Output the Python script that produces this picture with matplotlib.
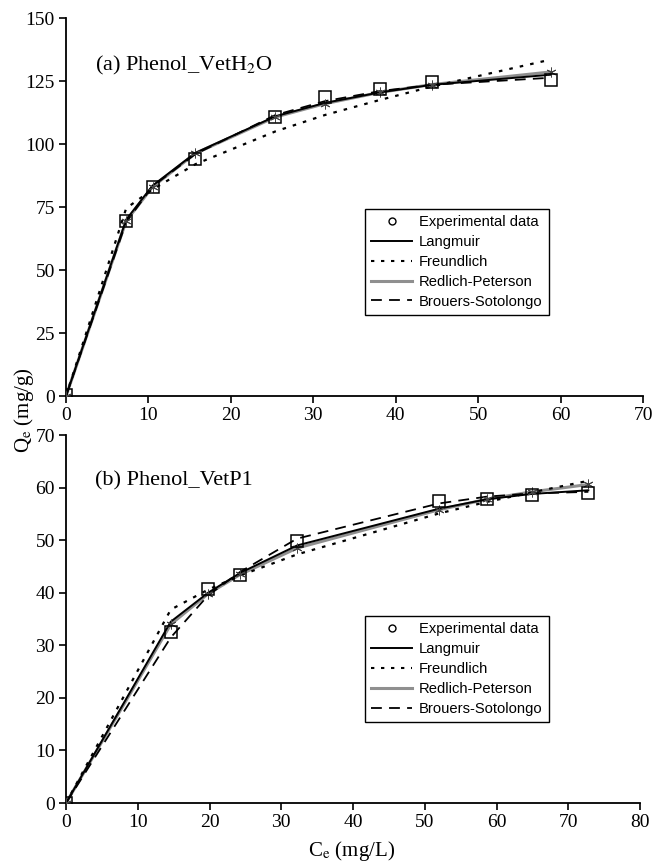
import matplotlib
matplotlib.use("Agg")
import matplotlib.pyplot as plt
from matplotlib.lines import Line2D

plt.rcParams['font.family'] = ['Liberation Serif', 'DejaVu Serif']
plt.rcParams['mathtext.fontset'] = 'stix'

# ---- Panel (a) Phenol_VetH2O ----
a_ce = [0, 7.3, 10.5, 15.7, 25.4, 31.4, 38.1, 44.4, 58.8]
a_exp = [0.5, 69.3, 83.0, 94.2, 110.7, 118.8, 122.0, 124.8, 125.4]
a_langmuir = [0, 70.0, 83.5, 96.5, 111.0, 116.3, 120.5, 123.5, 127.5]
a_freundlich = [0, 74.5, 82.0, 92.0, 105.0, 111.5, 117.5, 122.8, 133.5]
a_redlich = [0, 69.5, 83.0, 96.3, 110.7, 116.0, 120.5, 123.6, 128.6]
a_brouers = [0, 69.0, 83.2, 96.0, 111.5, 117.0, 121.0, 123.5, 126.3]

# ---- Panel (b) Phenol_VetP1 ----
b_ce = [0, 14.6, 19.8, 24.3, 32.2, 52.0, 58.7, 64.9, 72.8]
b_exp = [0, 32.5, 40.8, 43.4, 49.8, 57.5, 57.8, 58.6, 59.0]
b_langmuir = [0, 34.5, 40.0, 43.8, 49.0, 56.0, 57.8, 58.8, 59.5]
b_freundlich = [0, 36.8, 40.6, 43.3, 47.3, 55.1, 57.3, 59.1, 61.3]
b_redlich = [0, 34.0, 39.8, 43.5, 48.5, 55.8, 57.8, 59.2, 60.6]
b_brouers = [0, 31.5, 39.5, 44.0, 50.3, 57.0, 58.3, 58.9, 59.2]

legend_labels = ["Experimental data", "Langmuir", "Freundlich",
                 "Redlich-Peterson", "Brouers-Sotolongo"]

fig = plt.figure(figsize=(6.53, 8.66), dpi=100)
ax1 = fig.add_axes([0.1011, 0.5427, 0.8836, 0.4365])
ax2 = fig.add_axes([0.1011, 0.0727, 0.8790, 0.4249])

gray = '#8f8f8f'

def draw(ax, ce, exp, lang, freu, redl, brou, xmax, ymax, ystep, xstep, title, leg_anchor):
    ax.plot(ce, redl, color=gray, lw=2.2, solid_capstyle='butt', zorder=2)
    ax.plot(ce, lang, color='black', lw=1.4, zorder=3)
    ax.plot(ce, freu, color='black', lw=1.6, dashes=(1.6, 3.2), zorder=3)
    ax.plot(ce, brou, color='black', lw=1.3, dashes=(6, 4), zorder=3)
    ax.plot(ce, redl, ls='none', marker=(6, 2, 0), ms=7, mew=0.7,
            color='#444444', zorder=4)
    ax.plot(ce, exp, ls='none', marker='s', ms=9, mfc='none', mec='black',
            mew=1.1, zorder=5)
    ax.set_xlim(0, xmax)
    ax.set_ylim(0, ymax)
    ax.set_xticks(range(0, xmax + 1, xstep))
    ax.set_yticks(range(0, ymax + 1, ystep))
    for s in ['top', 'right']:
        ax.spines[s].set_visible(False)
    for s in ['left', 'bottom']:
        ax.spines[s].set_linewidth(1.3)
    ax.tick_params(direction='out', length=5, width=1.2, labelsize=14, pad=3)
    ax.text(0.05, 0.875, title, transform=ax.transAxes, fontsize=16,
            va='center', ha='left')
    handles = [
        Line2D([], [], ls='none', marker='o', ms=5, mfc='none', mec='black', mew=1.0),
        Line2D([], [], color='black', lw=1.4),
        Line2D([], [], color='black', lw=1.5, dashes=(1.6, 3.2)),
        Line2D([], [], color=gray, lw=2.2),
        Line2D([], [], color='black', lw=1.3, dashes=(6, 4)),
    ]
    leg = ax.legend(handles, legend_labels, loc='upper left',
                    bbox_to_anchor=leg_anchor, borderaxespad=0,
                    prop={'family': 'Liberation Sans', 'size': 10.6},
                    frameon=True, fancybox=False, edgecolor='black',
                    framealpha=1, handlelength=2.8, handletextpad=0.45,
                    labelspacing=0.4, borderpad=0.42)
    leg.get_frame().set_linewidth(1.0)

draw(ax1, a_ce, a_exp, a_langmuir, a_freundlich, a_redlich, a_brouers,
     70, 150, 25, 10, r"(a) Phenol_VetH$_2$O", (0.518, 0.495))
draw(ax2, b_ce, b_exp, b_langmuir, b_freundlich, b_redlich, b_brouers,
     80, 70, 10, 10, r"(b) Phenol_VetP1", (0.521, 0.508))

fig.text(0.037, 1 - 410 / 866, r"Q$_\mathrm{e}$ (mg/g)", rotation=90,
         ha='center', va='center', fontsize=15)
fig.text(352 / 653, 1 - 851 / 866, r"C$_\mathrm{e}$ (mg/L)",
         ha='center', va='center', fontsize=15)

fig.savefig("out.png", dpi=100)
